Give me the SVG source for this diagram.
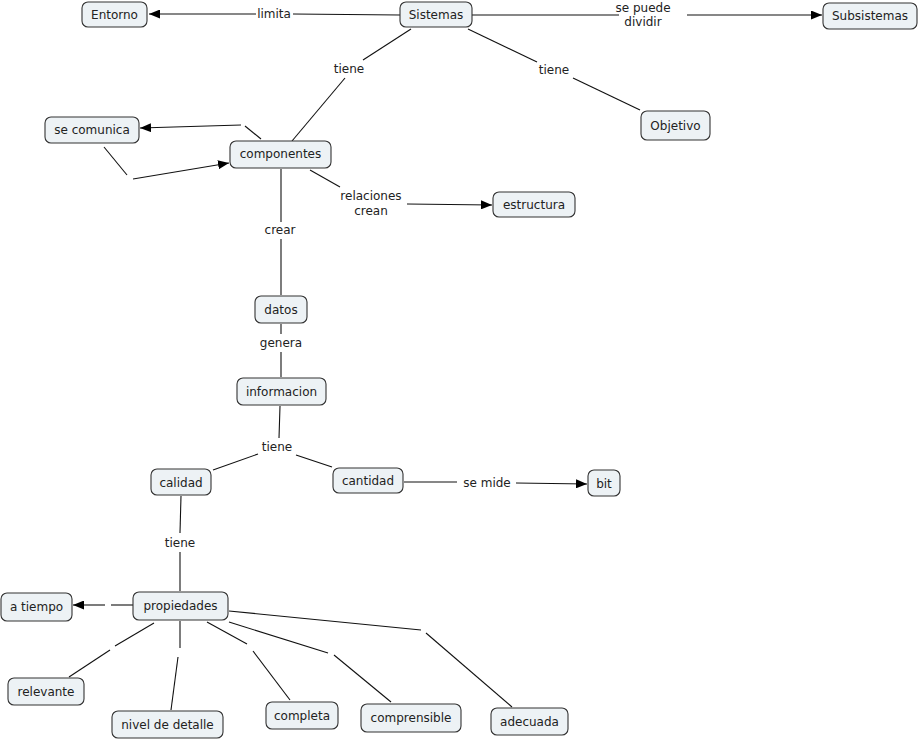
<svg xmlns="http://www.w3.org/2000/svg" width="919" height="740" viewBox="0 0 919 740">
<style>
.n rect{fill:#edf2f5;stroke:#333;stroke-width:1.1}
text{font-family:"DejaVu Sans",Verdana,sans-serif;font-size:12px;fill:#222;text-anchor:middle}
.c line{stroke:#111;stroke-width:1.1}
</style>
<defs>
<marker id="ah" markerUnits="userSpaceOnUse" markerWidth="11" markerHeight="9" refX="11" refY="4.5" orient="auto">
<path d="M0,0 L11,4.5 L0,9 z" fill="#000"/>
</marker>
</defs>
<rect width="919" height="740" fill="#fff"/>
<g class="c">
<line x1="400" y1="15" x2="293" y2="14"/>
<line x1="256" y1="14" x2="149" y2="14" marker-end="url(#ah)"/>
<line x1="472" y1="15" x2="619" y2="15"/>
<line x1="687" y1="15" x2="822" y2="15" marker-end="url(#ah)"/>
<line x1="411" y1="29" x2="363" y2="60"/>
<line x1="345" y1="78" x2="292" y2="141"/>
<line x1="468" y1="29" x2="537" y2="62"/>
<line x1="573" y1="78" x2="640" y2="110"/>
<line x1="261" y1="139" x2="245" y2="126"/>
<line x1="241" y1="125" x2="140" y2="128" marker-end="url(#ah)"/>
<line x1="104" y1="147" x2="127" y2="175"/>
<line x1="133" y1="179" x2="229" y2="163" marker-end="url(#ah)"/>
<line x1="310" y1="170" x2="340" y2="187"/>
<line x1="407" y1="204" x2="492" y2="205" marker-end="url(#ah)"/>
<line x1="281" y1="169" x2="281" y2="222"/>
<line x1="281" y1="239" x2="281" y2="295"/>
<line x1="281" y1="324" x2="281" y2="334"/>
<line x1="281" y1="352" x2="281" y2="377"/>
<line x1="280" y1="406" x2="279" y2="438"/>
<line x1="258" y1="454" x2="213" y2="470"/>
<line x1="296" y1="455" x2="332" y2="467"/>
<line x1="404" y1="482" x2="457" y2="482"/>
<line x1="516" y1="483" x2="587" y2="484" marker-end="url(#ah)"/>
<line x1="181" y1="496" x2="180" y2="533"/>
<line x1="180" y1="552" x2="180" y2="591"/>
<line x1="133" y1="605" x2="111" y2="605"/>
<line x1="105" y1="605" x2="73" y2="605" marker-end="url(#ah)"/>
<line x1="154" y1="623" x2="115" y2="646"/>
<line x1="110" y1="650" x2="69" y2="677"/>
<line x1="180" y1="621" x2="180" y2="648"/>
<line x1="178" y1="657" x2="171" y2="710"/>
<line x1="207" y1="622" x2="247" y2="644"/>
<line x1="253" y1="651" x2="290" y2="700"/>
<line x1="229" y1="622" x2="328" y2="653"/>
<line x1="334" y1="655" x2="391" y2="702"/>
<line x1="229" y1="611" x2="421" y2="630"/>
<line x1="426" y1="633" x2="512" y2="707"/>
</g>
<g id="lbl">
<text x="274" y="18">limita</text>
<text x="643" y="12">se puede</text>
<text x="643" y="26">dividir</text>
<text x="349" y="73">tiene</text>
<text x="554" y="74">tiene</text>
<text x="371" y="200">relaciones</text>
<text x="371" y="215">crean</text>
<text x="280" y="234">crear</text>
<text x="281" y="347">genera</text>
<text x="277" y="451">tiene</text>
<text x="487" y="487">se mide</text>
<text x="180" y="547">tiene</text>
</g>
<g id="entorno" class="n"><rect x="82" y="2" width="65" height="25" rx="6"/><text x="114.5" y="19">Entorno</text></g>
<g id="sistemas" class="n"><rect x="400" y="2" width="72" height="25" rx="6"/><text x="436" y="19">Sistemas</text></g>
<g id="subsistemas" class="n"><rect x="823" y="3" width="94" height="26" rx="6"/><text x="870" y="20">Subsistemas</text></g>
<g id="objetivo" class="n"><rect x="641" y="111" width="69" height="29" rx="6"/><text x="675.5" y="130">Objetivo</text></g>
<g id="secomunica" class="n"><rect x="45" y="117" width="94" height="26" rx="6"/><text x="92" y="134">se comunica</text></g>
<g id="componentes" class="n"><rect x="230" y="141" width="101" height="27" rx="6"/><text x="280.5" y="158">componentes</text></g>
<g id="estructura" class="n"><rect x="493" y="192" width="82" height="25" rx="6"/><text x="534" y="209">estructura</text></g>
<g id="datos" class="n"><rect x="255" y="296" width="52" height="27" rx="6"/><text x="281" y="314">datos</text></g>
<g id="informacion" class="n"><rect x="237" y="378" width="89" height="27" rx="6"/><text x="281.5" y="396">informacion</text></g>
<g id="calidad" class="n"><rect x="151" y="469" width="60" height="26" rx="6"/><text x="181" y="487">calidad</text></g>
<g id="cantidad" class="n"><rect x="333" y="468" width="70" height="25" rx="6"/><text x="368" y="485">cantidad</text></g>
<g id="bit" class="n"><rect x="588" y="470" width="32" height="26" rx="6"/><text x="604" y="488">bit</text></g>
<g id="propiedades" class="n"><rect x="133" y="592" width="95" height="28" rx="6"/><text x="180.5" y="610">propiedades</text></g>
<g id="atiempo" class="n"><rect x="1" y="593" width="71" height="28" rx="6"/><text x="36.5" y="611">a tiempo</text></g>
<g id="relevante" class="n"><rect x="8" y="678" width="76" height="27" rx="6"/><text x="46" y="696">relevante</text></g>
<g id="niveldetalle" class="n"><rect x="112" y="711" width="111" height="27" rx="6"/><text x="167.5" y="729">nivel de detalle</text></g>
<g id="completa" class="n"><rect x="266" y="702" width="72" height="27" rx="6"/><text x="302" y="720">completa</text></g>
<g id="comprensible" class="n"><rect x="361" y="704" width="100" height="28" rx="6"/><text x="411" y="722">comprensible</text></g>
<g id="adecuada" class="n"><rect x="491" y="708" width="77" height="27" rx="6"/><text x="529.5" y="726">adecuada</text></g>
</svg>
